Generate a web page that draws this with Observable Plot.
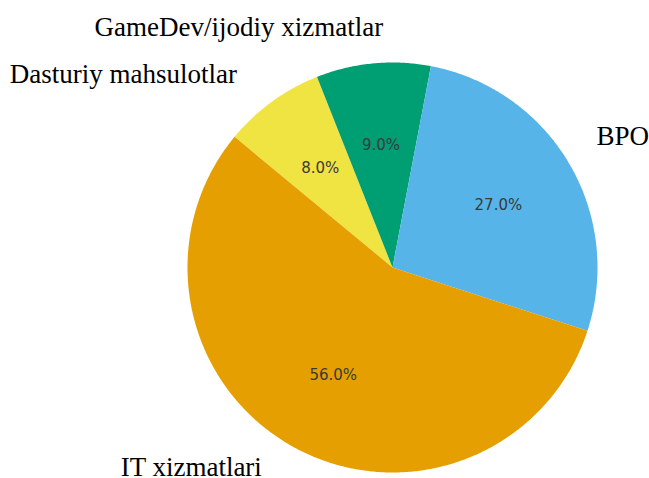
<!DOCTYPE html>
<html>
<head>
<meta charset="utf-8">
<script src="https://cdn.jsdelivr.net/npm/d3@7"></script>
<script src="https://cdn.jsdelivr.net/npm/@observablehq/plot@0.6"></script>
<style>
  html, body { margin: 0; padding: 0; background: #fff; }
  svg { display: block; }
</style>
</head>
<body>
<script>
// Data (clockwise order, starting at the Dasturiy/IT boundary)
const categories = ["Dasturiy mahsulotlar", "GameDev/ijodiy xizmatlar", "BPO", "IT xizmatlari"];
const shares = [8.0, 9.0, 27.0, 56.0];
const sliceColors = ["#F0E442", "#009E73", "#56B4E9", "#E69F00"];

// Layout
const W = 649, H = 478;
const R = 205, CX = 392, CY = 267;           // pie centre/radius in px
const startDeg = -50.4;                       // d3 angle (clockwise from 12 o'clock)
const pctDistance = 0.6, labelDistance = 1.1;
const labelNudgePx = [[-23, -11], [12, -16], [10, -16], [-22, 2]]; // label offsets in px

const pie = d3.pie().sort(null).value(d => d.share)
  .startAngle(startDeg * Math.PI / 180)
  .endAngle(startDeg * Math.PI / 180 + 2 * Math.PI);
const arcs = pie(categories.map((c, i) => ({category: c, share: shares[i]})));

// Polygon points for each slice in unit-radius data coords
const pts = [];
for (const a of arcs) {
  const c = a.data.category;
  pts.push({category: c, x: 0, y: 0});
  const n = Math.max(8, Math.ceil((a.endAngle - a.startAngle) / (Math.PI / 360)));
  for (let k = 0; k <= n; k++) {
    const t = a.startAngle + (a.endAngle - a.startAngle) * k / n;
    pts.push({category: c, x: Math.sin(t), y: Math.cos(t)});
  }
  pts.push({category: c, x: 0, y: 0});
}

const mid = a => (a.startAngle + a.endAngle) / 2;
const pctLabels = arcs.map(a => ({
  x: pctDistance * Math.sin(mid(a)),
  y: pctDistance * Math.cos(mid(a)),
  text: a.data.share.toFixed(1) + "%"
}));
const nameLabels = arcs.map((a, i) => {
  const ux = Math.sin(mid(a)), uy = Math.cos(mid(a));
  return {
    x: labelDistance * ux + labelNudgePx[i][0] / R,
    y: labelDistance * uy - labelNudgePx[i][1] / R,
    side: ux < 0 ? "left" : "right",
    text: a.data.category
  };
});

const chart = Plot.plot({
  width: W,
  height: H,
  margin: 0,
  x: {domain: [-CX / R, (W - CX) / R], axis: null},
  y: {domain: [-(H - CY) / R, CY / R], axis: null},
  color: {domain: categories, range: sliceColors},
  style: {background: "#fff", overflow: "visible"},
  marks: [
    Plot.line(pts, {x: "x", y: "y", z: "category", fill: "category", stroke: "none", curve: "linear"}),
    Plot.text(pctLabels, {x: "x", y: "y", text: "text", fill: "#3a3a3a",
      fontFamily: "DejaVu Sans", fontSize: 15, textAnchor: "middle", lineAnchor: "middle"}),
    Plot.text(nameLabels.filter(d => d.side === "left"), {x: "x", y: "y", text: "text", fill: "#000",
      fontFamily: "Liberation Serif", fontSize: 27, textAnchor: "end", lineAnchor: "middle"}),
    Plot.text(nameLabels.filter(d => d.side === "right"), {x: "x", y: "y", text: "text", fill: "#000",
      fontFamily: "Liberation Serif", fontSize: 27, textAnchor: "start", lineAnchor: "middle"})
  ]
});
document.body.appendChild(chart);
</script>
</body>
</html>
